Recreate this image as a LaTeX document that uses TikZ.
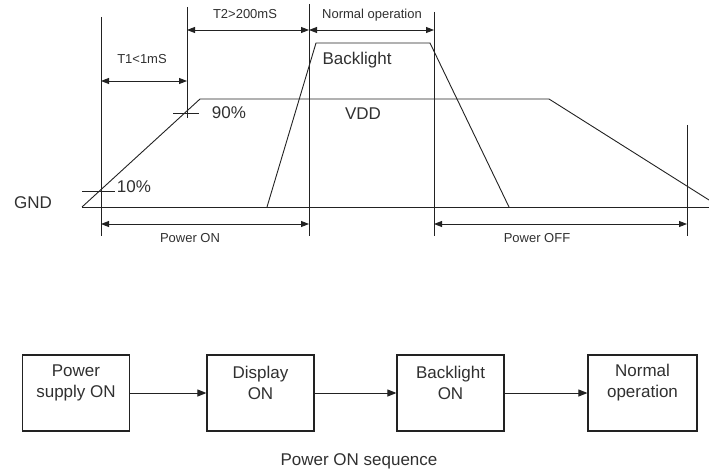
\documentclass[tikz,border=0pt]{standalone}
\usepackage{fontspec}
\setmainfont{Liberation Sans}
\usetikzlibrary{arrows.meta}
\definecolor{ink}{HTML}{222222}
\definecolor{txt}{HTML}{303030}
\tikzset{
  wave/.style={draw=ink, line width=0.9pt, line join=miter},
  vline/.style={draw=ink, line width=1pt},
  dim/.style={draw=ink, line width=0.9pt, {Triangle[length=8pt,width=6pt]}-{Triangle[length=8pt,width=6pt]}},
  small/.style={text=txt, font=\fontsize{13}{15}\selectfont, inner sep=0pt},
  mid/.style={text=txt, font=\fontsize{17}{21}\selectfont, inner sep=0pt},
  box/.style={draw=ink, line width=1.2pt, minimum width=107pt, minimum height=76pt, inner sep=0pt},
  boxtext/.style={text=txt, font=\fontsize{17}{21}\selectfont, align=center, inner sep=0pt},
  flow/.style={draw=ink, line width=1pt, -{Triangle[length=9pt,width=7pt]}}
}
\begin{document}
\begin{tikzpicture}[x=1pt,y=-1pt]
\useasboundingbox (0,0) rectangle (709,476);
% vertical marker lines
\coordinate (v1t) at (101,17);  \coordinate (v1b) at (101,236);
\coordinate (v2t) at (187,7);   \coordinate (v2b) at (187,118);
\coordinate (v3t) at (309,4);   \coordinate (v3b) at (309,236);
\coordinate (v4t) at (434,12);  \coordinate (v4b) at (434,236);
\coordinate (v5t) at (687,125); \coordinate (v5b) at (687,236);
\draw[vline] (v1t) -- (v1b);
\draw[vline] (v2t) -- (v2b);
\draw[vline] (v3t) -- (v3b);
\draw[vline] (v4t) -- (v4b);
\draw[vline] (v5t) -- (v5b);
% GND line
\coordinate (g0) at (82,207); \coordinate (g1) at (709,207);
\draw[wave] (g0) -- (g1);
% VDD
\coordinate (vd1) at (200,99); \coordinate (vd2) at (549,99); \coordinate (vd3) at (709,200);
\draw[wave] (g0) -- (vd1) -- (vd2) -- (vd3);
% Backlight
\coordinate (bl0) at (267,207); \coordinate (bl1) at (316,43);
\coordinate (bl2) at (430,43);  \coordinate (bl3) at (509,207);
\draw[wave] (bl0) -- (bl1) -- (bl2) -- (bl3);
% ticks
\coordinate (k10a) at (82,191); \coordinate (k10b) at (115,191);
\coordinate (k90a) at (173,113); \coordinate (k90b) at (199,113);
\draw[wave] (k10a) -- (k10b);
\draw[wave] (k90a) -- (k90b);
% dimension arrows
\coordinate (t1a) at (101,81); \coordinate (t1b) at (187,81);
\coordinate (t2a) at (187,30); \coordinate (t2b) at (309,30);
\coordinate (noa) at (309,30); \coordinate (nob) at (434,30);
\coordinate (pna) at (101,224); \coordinate (pnb) at (309,224);
\coordinate (pfa) at (434,224); \coordinate (pfb) at (687,224);
\draw[dim] (t1a) -- (t1b);
\draw[dim] (t2a) -- (t2b);
\draw[dim] (noa) -- (nob);
\draw[dim] (pna) -- (pnb);
\draw[dim] (pfa) -- (pfb);
% labels
\node[small] (lt1) at (142,59) {T1<1mS};
\node[small] (lt2) at (245,14) {T2>200mS};
\node[small] (lno) at (372,15) {Normal operation};
\node[small] (lpn) at (190,238) {Power ON};
\node[small] (lpf) at (537,238) {Power OFF};
\node[mid] (lbl) at (357,60) {Backlight};
\node[mid] (lvdd) at (363,114) {VDD};
\node[mid] (l90) at (229,113) {90\%};
\node[mid] (l10) at (134,187) {10\%};
\node[mid] (lgnd) at (33,203) {GND};
% sequence boxes
\node[box] (b1) at (76,393) {};
\node[box] (b2) at (260.5,393) {};
\node[box] (b3) at (450.5,393) {};
\node[box, minimum width=109pt] (b4) at (642.5,393) {};
\node[boxtext] (tb1) at (76,383) {Power\\supply ON};
\node[boxtext] (tb2) at (260.5,383) {Display\\ON};
\node[boxtext] (tb3) at (450.5,383) {Backlight\\ON};
\node[boxtext] (tb4) at (642.5,383) {Normal\\operation};
\draw[flow] (b1.east) -- (b2.west);
\draw[flow] (b2.east) -- (b3.west);
\draw[flow] (b3.east) -- (b4.west);
\node[mid] (cap) at (359,461) {Power ON sequence};
\end{tikzpicture}
\end{document}
